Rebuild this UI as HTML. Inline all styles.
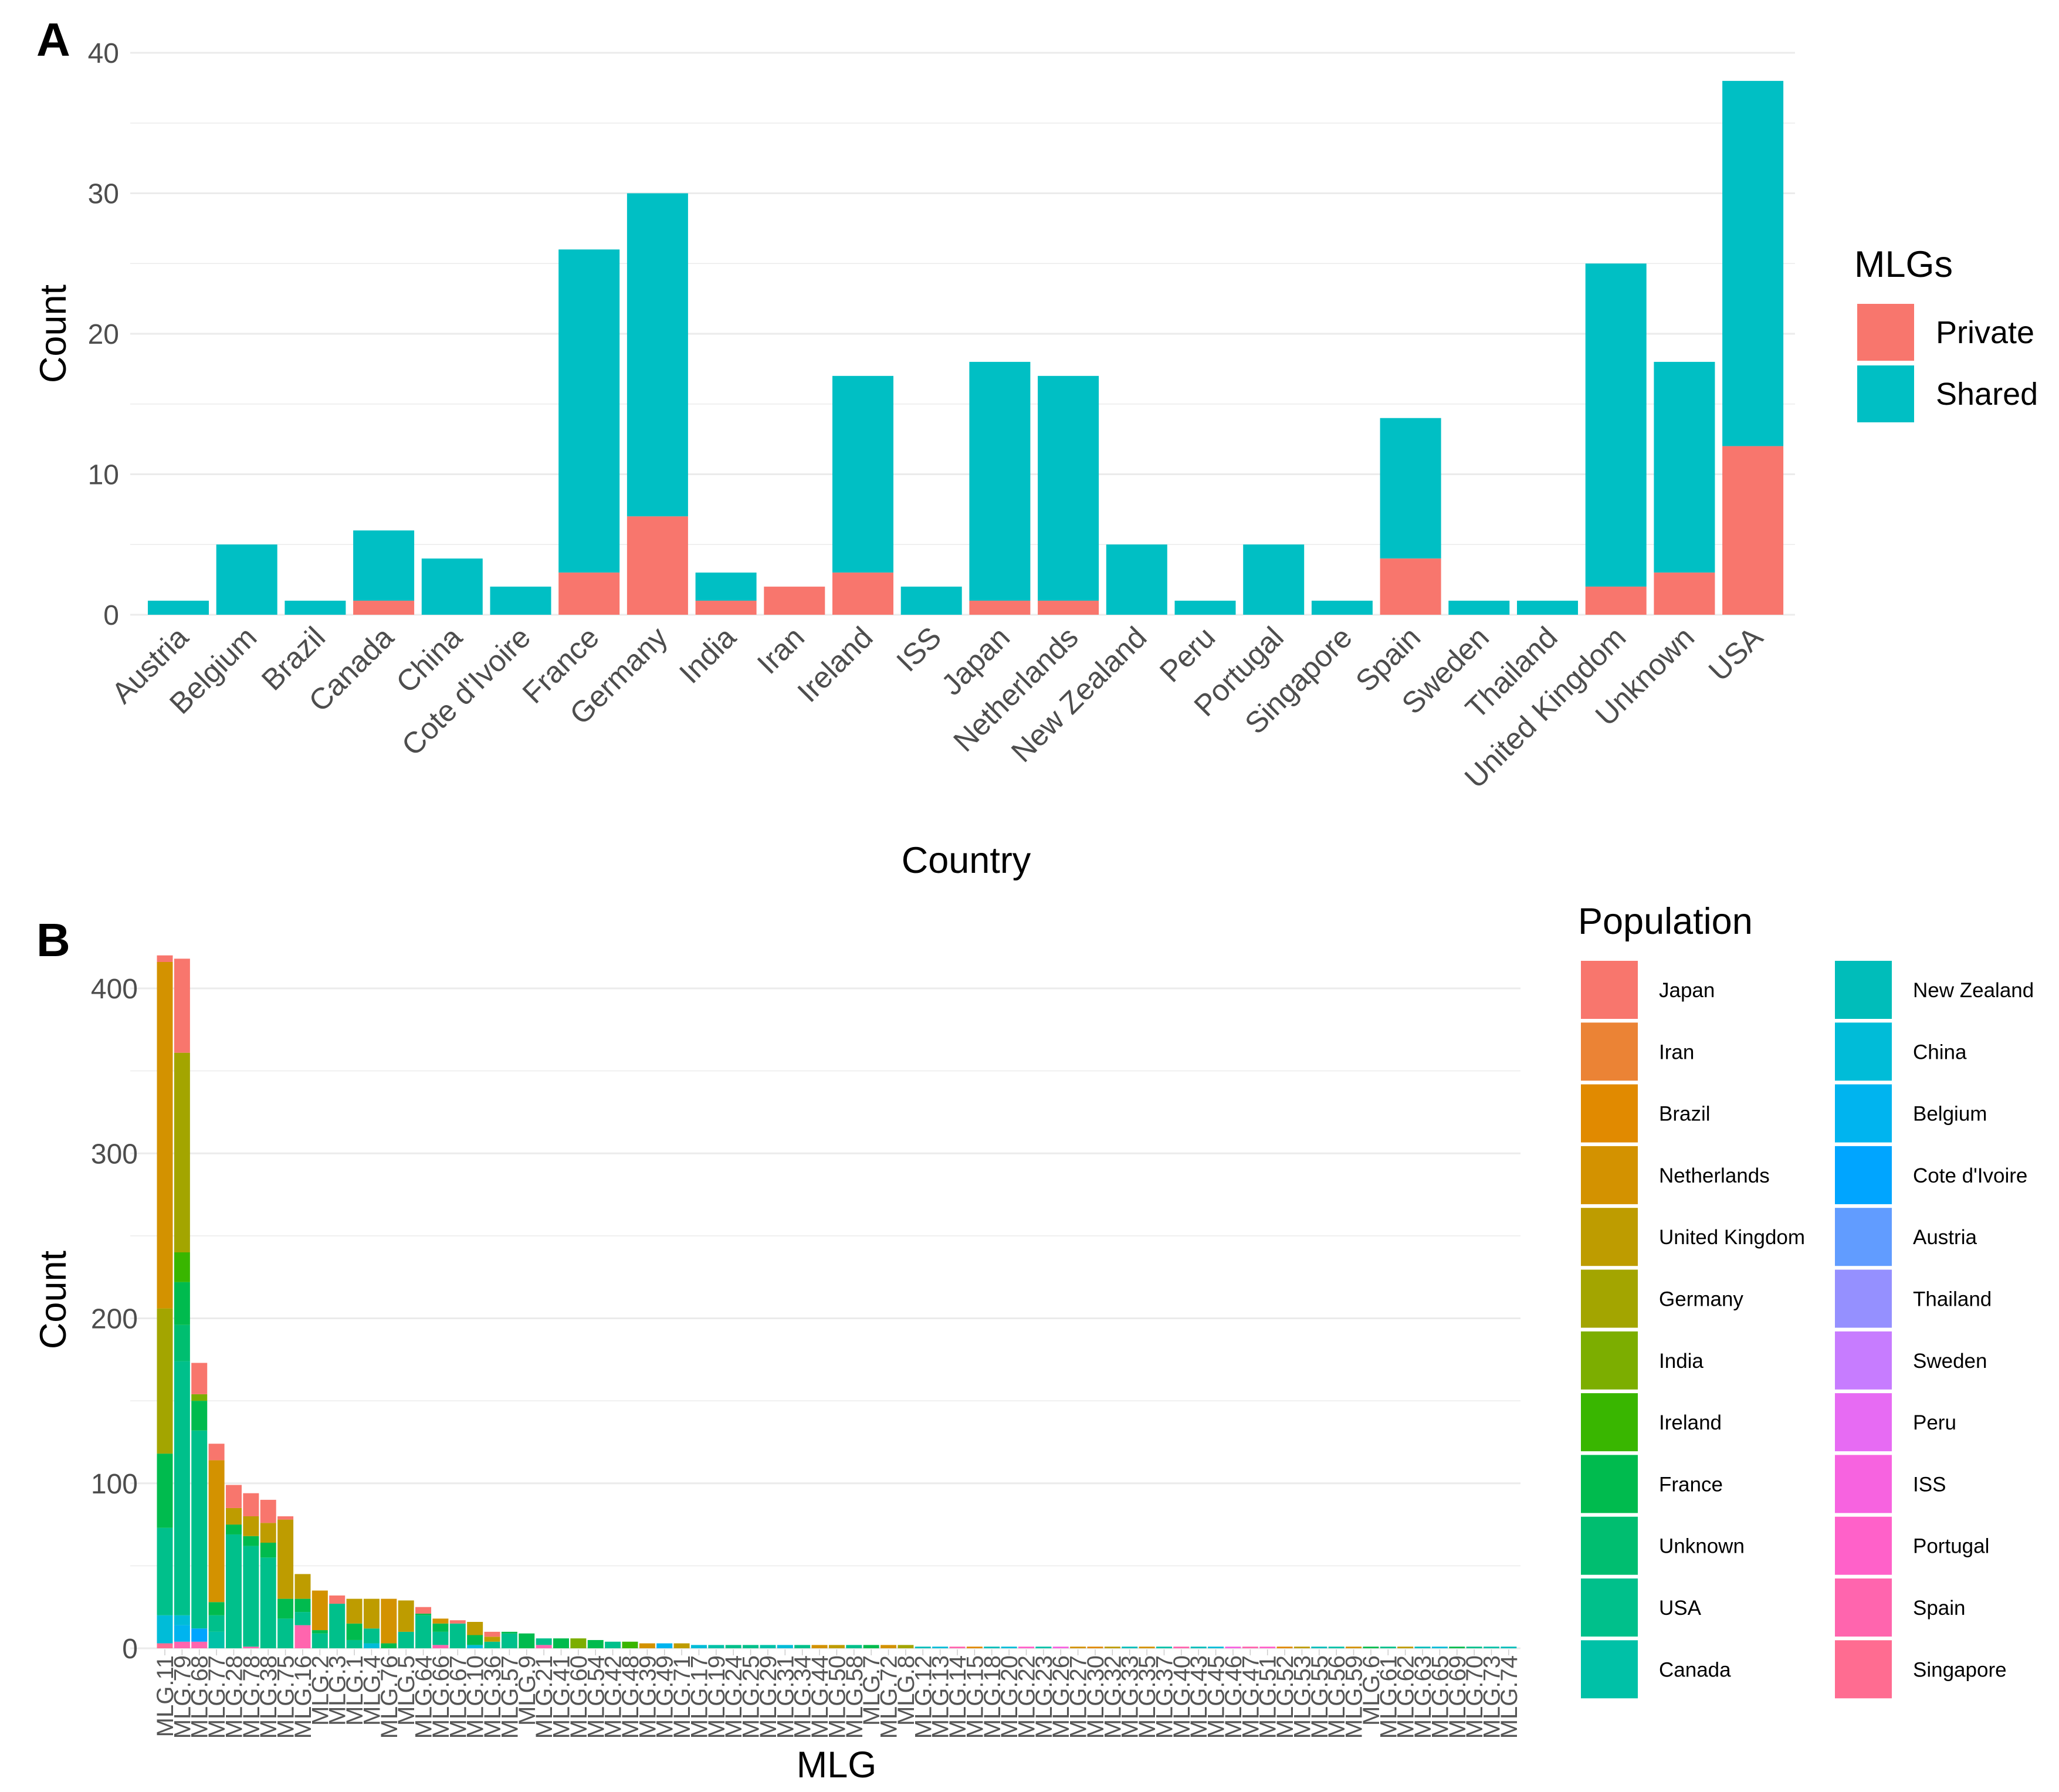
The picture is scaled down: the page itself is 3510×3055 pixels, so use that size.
<!DOCTYPE html>
<html><head><meta charset="utf-8">
<style>
html,body{margin:0;padding:0;background:#fff;}
svg{display:block;font-family:"Liberation Sans",sans-serif;}
</style></head>
<body>
<svg id="chart" width="3510" height="3055" viewBox="0 0 3510 3055" xmlns="http://www.w3.org/2000/svg">
  <text x="62" y="95" font-size="80" font-weight="bold" fill="#000">A</text>
  <text x="62" y="1630" font-size="80" font-weight="bold" fill="#000">B</text>
  <g id="panelA"></g>
  <g id="panelB"></g>
</svg>
<script>
// ---------- Panel A data ----------
const countries = ["Austria","Belgium","Brazil","Canada","China","Cote d'Ivoire","France","Germany","India","Iran","Ireland","ISS","Japan","Netherlands","New Zealand","Peru","Portugal","Singapore","Spain","Sweden","Thailand","United Kingdom","Unknown","USA"];
const privateCounts = [0,0,0,1,0,0,3,7,1,2,3,0,1,1,0,0,0,0,4,0,0,2,3,12];
const sharedCounts  = [1,5,1,5,4,2,23,23,2,0,14,2,17,16,5,1,5,1,10,1,1,23,15,26];
const yTicksA = [0,10,20,30,40];

// ---------- Panel B data ----------
const mlgLabels = ["MLG.11","MLG.79","MLG.68","MLG.77","MLG.28","MLG.78","MLG.38","MLG.75","MLG.16","MLG.2","MLG.3","MLG.1","MLG.4","MLG.76","MLG.5","MLG.64","MLG.66","MLG.67","MLG.10","MLG.36","MLG.57","MLG.9","MLG.21","MLG.41","MLG.60","MLG.54","MLG.42","MLG.48","MLG.39","MLG.49","MLG.71","MLG.17","MLG.19","MLG.24","MLG.25","MLG.29","MLG.31","MLG.34","MLG.44","MLG.50","MLG.58","MLG.7","MLG.72","MLG.8","MLG.12","MLG.13","MLG.14","MLG.15","MLG.18","MLG.20","MLG.22","MLG.23","MLG.26","MLG.27","MLG.30","MLG.32","MLG.33","MLG.35","MLG.37","MLG.40","MLG.43","MLG.45","MLG.46","MLG.47","MLG.51","MLG.52","MLG.53","MLG.55","MLG.56","MLG.59","MLG.6","MLG.61","MLG.62","MLG.63","MLG.65","MLG.69","MLG.70","MLG.73","MLG.74"];
const populations = ["Japan","Iran","Brazil","Netherlands","United Kingdom","Germany","India","Ireland","France","Unknown","USA","Canada","New Zealand","China","Belgium","Cote d'Ivoire","Austria","Thailand","Sweden","Peru","ISS","Portugal","Spain","Singapore"];
const popColors = ["#F8766D","#EB8335","#E18A00","#D39200","#BE9C00","#A3A500","#7CAE00","#39B600","#00BB4E","#00BE70","#00C08B","#00C1A7","#00BDBA","#00BCD8","#00B4EF","#00A5FF","#619CFF","#9590FF","#C77CFF","#E76BF3","#F763E0","#FF61C9","#FF65AE","#FF6C91"];
const stackPops = [
 [23,13,10,8,7,5,3,0],[22,14,13,10,9,8,7,5,0],[22,15,10,8,6,0],[11,10,8,3,0],[10,8,4,0],[22,10,8,4,0],[10,8,4,0],[10,8,4,0],[22,10,8,4],[10,8,3],
 [10,0],[10,8,4],[13,10,4],[8,3],[10,4],[10,8,0],[22,10,8,3],[10,0],[13,8,4],[10,4,0],
 [10,8],[8],[22,10],[8],[6],[8],[10],[7],[3],[14],
 [4],[13],[11],[10],[10],[11],[13],[10],[3],[4],
 [10],[8],[3],[5],[12],[13],[22],[2],[12],[13],
 [21],[11],[20],[3],[2],[4],[12],[3],[11],[22],
 [12],[13],[20],[22],[21],[2],[4],[12],[11],[3],
 [8],[10],[4],[12],[13],[8],[10],[11],[12]
];
const stackVals = [
 [3,17,53,45,0,88,210,4],[4,10,6,154,22,26,18,121,57],[4,8,120,18,4,19],[10,10,8,86,10],[69,6,10,14],[1,61,6,12,14],[55,9,12,14],[18,12,48,2],[14,8,8,15],[9,2,24],
 [27,5],[5,10,15],[3,9,18],[3,27],[10,19],[20,1,4],[2,8,5,3],[15,2],[2,6,8],[4,3,3],
 [9,1],[9],[2,4],[6],[6],[5],[4],[4],[3],[3],
 [3],[2],[2],[2],[2],[2],[2],[2],[2],[2],
 [2],[2],[2],[2],[1],[1],[1],[1],[1],[1],
 [1],[1],[1],[1],[1],[1],[1],[1],[1],[1],
 [1],[1],[1],[1],[1],[1],[1],[1],[1],[1],
 [1],[1],[1],[1],[1],[1],[1],[1],[1]
];
const yTicksB = [0,100,200,300,400];

const NS = "http://www.w3.org/2000/svg";
function mk(tag, attrs, parent){
  const e = document.createElementNS(NS, tag);
  for (const k in attrs) e.setAttribute(k, attrs[k]);
  parent.appendChild(e);
  return e;
}

// ---------- Panel A ----------
const gA = document.getElementById('panelA');
const A = {left:222, right:3060, y0:1048, y40:90, x0:304, step:116.7, bw:104};
const yA = v => A.y0 - (A.y0 - A.y40) * v / 40;
const xA = i => A.x0 + i * A.step;
for (let v = 0; v <= 40; v += 5) {
  const gl = mk('line', {x1:A.left, x2:A.right, y1:yA(v), y2:yA(v), stroke:'#ebebeb', 'stroke-width': v % 10 === 0 ? 3 : 1.5}, gA);
  
  
}
yTicksA.forEach(v => {
  const t = mk('text', {x:203, y:yA(v)+17, 'font-size':48, fill:'#4d4d4d', 'text-anchor':'end'}, gA);
  t.textContent = v;
  
  
});
countries.forEach((c, i) => {
  const cx = xA(i);
  const p = privateCounts[i], s = sharedCounts[i];
  const rs = mk('rect', {x:cx - A.bw/2, y:yA(p + s), width:A.bw, height:yA(p) - yA(p + s), fill:'#00BFC4'}, gA);
  
  
  const rp = mk('rect', {x:cx - A.bw/2, y:yA(p), width:A.bw, height:yA(0) - yA(p), fill:'#F8766D'}, gA);
  
  
  const t = mk('text', {x:cx + 20, y:1090, 'font-size':51, fill:'#4d4d4d', 'text-anchor':'end', transform:`rotate(-45 ${cx + 20} 1090)`}, gA);
  t.textContent = c;
  
  
});
{
  const t = mk('text', {x:0, y:0, 'font-size':63, fill:'#000', 'text-anchor':'middle', transform:`translate(112 ${(A.y0 + A.y40) / 2}) rotate(-90)`}, gA);
  t.textContent = 'Count';
  
  
  const t2 = mk('text', {x:1647, y:1488, 'font-size':63, fill:'#000', 'text-anchor':'middle'}, gA);
  t2.textContent = 'Country';
  
  
  const lt = mk('text', {x:3161, y:472, 'font-size':63, fill:'#000'}, gA);
  lt.textContent = 'MLGs';
  
  
  [['Private', '#F8766D', 518], ['Shared', '#00BFC4', 623]].forEach(([n, col, y]) => {
    const r = mk('rect', {x:3166, y:y, width:97, height:97, fill:col}, gA);
    
    
    const lt2 = mk('text', {x:3300, y:y + 67, 'font-size':54, fill:'#000'}, gA);
    lt2.textContent = n;
    
    
  });
}

// ---------- Panel B ----------
const gB = document.getElementById('panelB');
const B = {left:222, right:2592, y0:2810, y400:1685, x0:281, step:29.37, bw:27};
const yB = v => B.y0 - (B.y0 - B.y400) * v / 400;
const xB = i => B.x0 + i * B.step;
for (let v = 0; v <= 400; v += 50) {
  const gl = mk('line', {x1:B.left, x2:B.right, y1:yB(v), y2:yB(v), stroke:'#ebebeb', 'stroke-width': v % 100 === 0 ? 3 : 1.5}, gB);
  
  
}
yTicksB.forEach(v => {
  const t = mk('text', {x:235, y:yB(v) + 17, 'font-size':48, fill:'#4d4d4d', 'text-anchor':'end'}, gB);
  t.textContent = v;
  
  
});
mlgLabels.forEach((m, i) => {
  const cx = xB(i);
  const pops = stackPops[i], vals = stackVals[i];
  const order = pops.map((p, k) => k).sort((a, b) => pops[b] - pops[a]);
  let cum = 0;
  order.forEach(k => {
    const v = vals[k];
    if (v <= 0) return;
    const r = mk('rect', {x:cx - B.bw/2, y:yB(cum + v), width:B.bw, height:yB(cum) - yB(cum + v), fill:popColors[pops[k]]}, gB);
    
    
    cum += v;
  });
  const tk = mk('line', {x1:cx, x2:cx, y1:2812, y2:2822, stroke:'#cccccc', 'stroke-width':1.5}, gB);
  
  
  const t = mk('text', {x:0, y:0, 'font-size':40, fill:'#555555', 'text-anchor':'end', transform:`translate(${cx + 14} 2822) rotate(-90)`}, gB);
  t.textContent = m;
  
  
});
{
  const t = mk('text', {x:0, y:0, 'font-size':63, fill:'#000', 'text-anchor':'middle', transform:`translate(112 2216) rotate(-90)`}, gB);
  t.textContent = 'Count';
  
  
  const t2 = mk('text', {x:1426, y:3030, 'font-size':63, fill:'#000', 'text-anchor':'middle'}, gB);
  t2.textContent = 'MLG';
  
  
  const lt = mk('text', {x:2690, y:1592, 'font-size':63, fill:'#000'}, gB);
  lt.textContent = 'Population';
  
  
  populations.forEach((p, i) => {
    const col = Math.floor(i / 12), row = i % 12;
    const sx = col === 0 ? 2695 : 3128;
    const sy = 1638 + row * 105.3;
    const r = mk('rect', {x:sx, y:sy, width:97, height:99, fill:popColors[i]}, gB);
    
    
    const l = mk('text', {x:sx + 133, y:sy + 62, 'font-size':35, fill:'#000'}, gB);
    l.textContent = p;
    
    
  });
}
</script>
</body></html>
